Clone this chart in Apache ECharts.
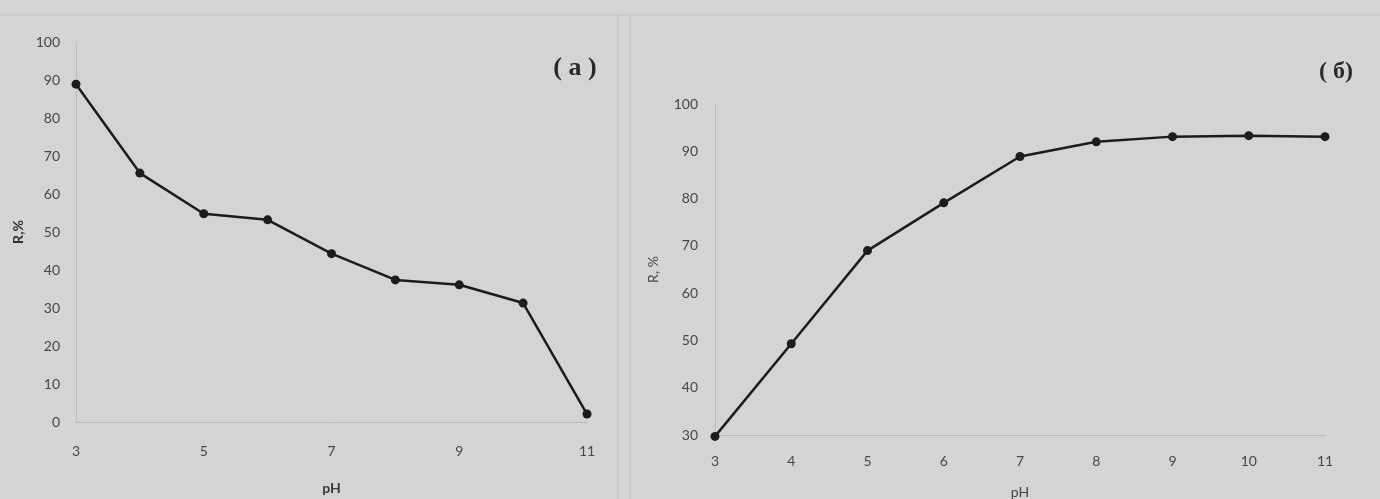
<!DOCTYPE html>
<html>
<head>
<meta charset="utf-8">
<script src="https://cdn.jsdelivr.net/npm/echarts@6/dist/echarts.min.js"></script>
<style>
html,body{margin:0;padding:0;background:#d3d4d3;}
#chart{width:1380px;height:499px;}
</style>
</head>
<body>
<div id="chart"></div>
<script>
// Panel (a)
const phA = [3, 4, 5, 6, 7, 8, 9, 10, 11];
const rA = [88.9, 65.5, 54.8, 53.2, 44.3, 37.4, 36.1, 31.3, 2.1];
// Panel (б)
const phB = [3, 4, 5, 6, 7, 8, 9, 10, 11];
const rB = [29.7, 49.3, 69.0, 79.1, 88.9, 92.0, 93.1, 93.3, 93.1];
const labelA = '( a )';
const labelB = '( б)';

const chart = echarts.init(document.getElementById('chart'), null, {renderer: 'canvas'});
const tickFont = {color: '#474747', fontFamily: 'Lato', fontSize: 14};
const faint = {lineStyle: {color: '#b9bab9', width: 1}};

chart.setOption({
  backgroundColor: '#d3d4d3',
  animation: false,
  title: [
    {text: labelA, left: 570, top: 50, textAlign: 'center',
     textStyle: {fontFamily: 'Liberation Serif', fontWeight: 'bold', fontSize: 26, color: '#2a2a2a'}},
    {text: labelB, left: 1331, top: 55, textAlign: 'center',
     textStyle: {fontFamily: 'Liberation Serif', fontWeight: 'bold', fontSize: 24, color: '#2a2a2a'}}
  ],
  graphic: [
    {type: 'line', shape: {x1: 0, y1: 15, x2: 1380, y2: 15}, style: {stroke: '#c2c3c2', lineWidth: 1}},
    {type: 'line', shape: {x1: 618, y1: 15, x2: 618, y2: 499}, style: {stroke: '#c2c3c2', lineWidth: 1}},
    {type: 'line', shape: {x1: 630, y1: 16, x2: 630, y2: 499}, style: {stroke: '#c2c3c2', lineWidth: 1}}
  ],
  grid: [
    {left: 76, top: 42, width: 511, height: 380, containLabel: false, outerBoundsMode: 'none'},
    {left: 715, top: 104, width: 610, height: 331, containLabel: false, outerBoundsMode: 'none'}
  ],
  xAxis: [
    {type: 'value', gridIndex: 0, min: 3, max: 11, interval: 2,
     name: 'pH', nameLocation: 'middle', nameGap: 59,
     nameTextStyle: {fontFamily: 'Lato', fontWeight: 'bold', fontSize: 14, color: '#3a3a3a'},
     axisLine: faint, axisTick: {show: false}, splitLine: {show: false},
     axisLabel: Object.assign({margin: 22}, tickFont)},
    {type: 'value', gridIndex: 1, min: 3, max: 11, interval: 1,
     name: 'pH', nameLocation: 'middle', nameGap: 50,
     nameTextStyle: {fontFamily: 'Lato', fontSize: 14, color: '#474747'},
     axisLine: faint, axisTick: {show: false}, splitLine: {show: false},
     axisLabel: Object.assign({margin: 19}, tickFont)}
  ],
  yAxis: [
    {type: 'value', gridIndex: 0, min: 0, max: 100, interval: 10,
     name: 'R,%', nameLocation: 'middle', nameGap: 51, nameRotate: 90,
     nameTextStyle: {fontFamily: 'Lato', fontWeight: 'bold', fontSize: 14, color: '#333333'},
     axisLine: Object.assign({show: true}, faint), axisTick: {show: false}, splitLine: {show: false},
     axisLabel: Object.assign({margin: 16}, tickFont)},
    {type: 'value', gridIndex: 1, min: 30, max: 100, interval: 10,
     name: 'R, %', nameLocation: 'middle', nameGap: 55, nameRotate: 90,
     nameTextStyle: {fontFamily: 'Lato', fontSize: 14, color: '#474747'},
     axisLine: Object.assign({show: true}, faint), axisTick: {show: false}, splitLine: {show: false},
     axisLabel: Object.assign({margin: 17}, tickFont)}
  ],
  series: [
    {type: 'line', xAxisIndex: 0, yAxisIndex: 0, clip: false,
     data: phA.map((p, i) => [p, rA[i]]),
     symbol: 'circle', symbolSize: 9,
     lineStyle: {color: '#1c1c1c', width: 2.5},
     itemStyle: {color: '#1c1c1c'}},
    {type: 'line', xAxisIndex: 1, yAxisIndex: 1, clip: false,
     data: phB.map((p, i) => [p, rB[i]]),
     symbol: 'circle', symbolSize: 9,
     lineStyle: {color: '#1c1c1c', width: 2.5},
     itemStyle: {color: '#1c1c1c'}}
  ]
});
</script>
</body>
</html>
